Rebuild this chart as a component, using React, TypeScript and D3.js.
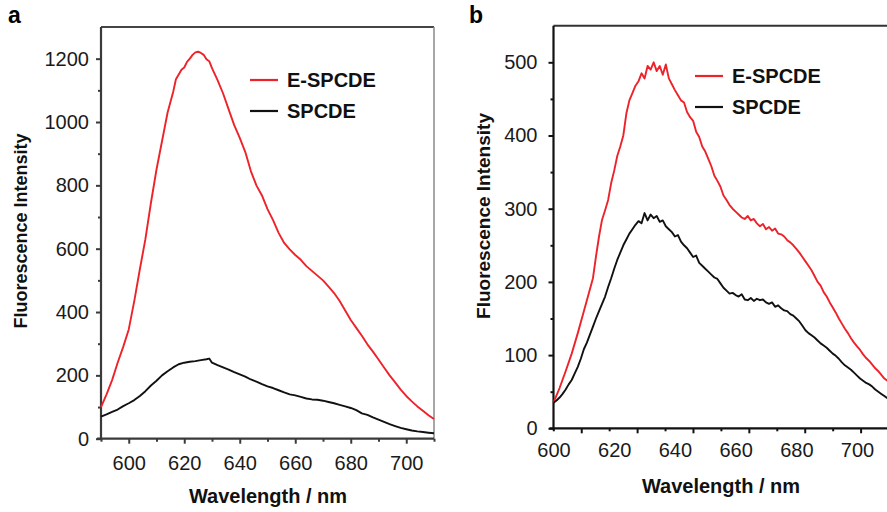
import React, { useEffect, useRef } from 'react';
import * as d3 from 'd3';

// Panel a: [wavelength nm, intensity]
const aRed: [number, number][] = [
  [590, 100], [592, 140], [594, 185], [596, 240], [598, 290], [600, 345], [602, 435], [604, 535],
  [606, 630], [608, 745], [610, 850], [612, 940], [613, 985], [614, 1030], [616, 1095], [617, 1135],
  [618, 1150], [619, 1165], [620, 1172], [621, 1190], [622, 1200], [623, 1212], [624, 1220], [625, 1222],
  [626, 1218], [627, 1212], [628, 1198], [629, 1192], [630, 1170], [632, 1132], [634, 1090], [636, 1040],
  [638, 990], [640, 950], [642, 905], [644, 845], [646, 800], [648, 768], [650, 725], [652, 690],
  [654, 650], [656, 618], [658, 598], [660, 580], [662, 565], [664, 545], [666, 530], [668, 515],
  [670, 500], [672, 480], [674, 460], [676, 435], [678, 405], [680, 375], [682, 350], [684, 325],
  [686, 298], [688, 275], [690, 250], [692, 225], [694, 200], [696, 178], [698, 155], [700, 135],
  [702, 118], [704, 102], [706, 88], [708, 74], [710, 62],
];
const aBlack: [number, number][] = [
  [590, 70], [592, 77], [594, 85], [596, 92], [598, 103], [600, 112], [602, 122], [604, 135],
  [606, 150], [608, 168], [610, 183], [612, 200], [614, 213], [616, 225], [618, 235], [620, 240],
  [622, 243], [624, 245], [626, 248], [628, 251], [629, 253], [630, 240], [632, 232], [634, 225],
  [636, 218], [638, 210], [640, 203], [642, 196], [644, 187], [646, 180], [648, 172], [650, 165],
  [652, 160], [654, 153], [656, 146], [658, 140], [660, 137], [662, 132], [664, 127], [666, 124],
  [668, 123], [670, 120], [672, 116], [674, 112], [676, 107], [678, 102], [680, 97], [682, 90],
  [684, 80], [686, 75], [688, 67], [690, 60], [692, 53], [694, 46], [696, 40], [698, 34],
  [700, 30], [702, 26], [704, 23], [706, 21], [708, 19], [710, 17],
];

// Panel b
const bRed: [number, number][] = [
  [600, 35], [601, 45], [602, 55], [604, 78], [606, 102], [608, 130], [610, 160], [612, 190],
  [613, 205], [614, 235], [615, 262], [616, 285], [617, 298], [618, 312], [619, 335], [620, 352],
  [621, 372], [622, 385], [623, 400], [624, 430], [625, 448], [626, 458], [627, 468], [628, 474],
  [629, 485], [630, 478], [631, 495], [632, 490], [633, 500], [634, 488], [635, 495], [636, 483],
  [637, 497], [638, 478], [639, 470], [640, 462], [641, 455], [642, 448], [643, 445], [644, 432],
  [645, 425], [646, 420], [647, 405], [648, 398], [649, 385], [650, 378], [651, 368], [652, 358],
  [653, 345], [654, 338], [655, 330], [656, 318], [657, 312], [658, 305], [659, 300], [660, 296],
  [661, 292], [662, 288], [663, 286], [664, 290], [665, 284], [666, 286], [667, 280], [668, 276],
  [669, 279], [670, 272], [671, 275], [672, 270], [673, 273], [674, 266], [675, 265], [676, 262],
  [677, 257], [678, 254], [679, 250], [680, 245], [681, 240], [682, 234], [683, 228], [684, 222],
  [685, 216], [686, 208], [687, 200], [688, 195], [689, 186], [690, 180], [691, 172], [692, 165],
  [693, 158], [694, 150], [695, 143], [696, 136], [697, 130], [698, 123], [699, 117], [700, 112],
  [701, 107], [702, 101], [703, 96], [704, 92], [705, 87], [706, 82], [707, 78], [708, 73],
  [709, 68], [710, 65],
];
const bBlack: [number, number][] = [
  [600, 35], [601, 38], [602, 42], [603, 47], [604, 53], [605, 60], [606, 66], [607, 75],
  [608, 84], [609, 95], [610, 108], [611, 117], [612, 128], [613, 139], [614, 150], [615, 160],
  [616, 170], [617, 180], [618, 193], [619, 205], [620, 218], [621, 230], [622, 240], [623, 250],
  [624, 258], [625, 266], [626, 272], [627, 278], [628, 283], [629, 280], [630, 294], [631, 284],
  [632, 292], [633, 287], [634, 290], [635, 282], [636, 284], [637, 276], [638, 272], [639, 268],
  [640, 262], [641, 264], [642, 255], [643, 250], [644, 246], [645, 240], [646, 234], [647, 236],
  [648, 226], [649, 222], [650, 218], [651, 214], [652, 210], [653, 206], [654, 204], [655, 198],
  [656, 192], [657, 188], [658, 184], [659, 185], [660, 182], [661, 180], [662, 183], [663, 176],
  [664, 175], [665, 178], [666, 174], [667, 177], [668, 175], [669, 176], [670, 172], [671, 170],
  [672, 172], [673, 166], [674, 168], [675, 164], [676, 161], [677, 160], [678, 156], [679, 154],
  [680, 150], [681, 146], [682, 140], [683, 134], [684, 130], [685, 127], [686, 124], [687, 120],
  [688, 116], [689, 113], [690, 110], [691, 106], [692, 102], [693, 99], [694, 95], [695, 90],
  [696, 86], [697, 83], [698, 80], [699, 76], [700, 72], [701, 68], [702, 65], [703, 62],
  [704, 60], [705, 57], [706, 53], [707, 50], [708, 47], [709, 44], [710, 41],
];

const aYMajor = [0, 200, 400, 600, 800, 1000, 1200];
const aYMinor = [100, 300, 500, 700, 900, 1100];
const aXMajor = [600, 620, 640, 660, 680, 700];
const aXMinor = [590, 610, 630, 650, 670, 690, 710];
const bYMajor = [0, 100, 200, 300, 400, 500];
const bYMinor = [50, 150, 250, 350, 450];
const bXMajor = [600, 620, 640, 660, 680, 700];
const bTickMajor = [610, 630, 650, 670, 690, 710];
const bTickMinor = [600, 620, 640, 660, 680, 700];

const seriesNames = ['E-SPCDE', 'SPCDE'];
const seriesColors = ['#ee2229', '#111111'];

const FONT = "'Liberation Sans', Arial, Helvetica, sans-serif";

export default function App() {
  const ref = useRef<SVGSVGElement | null>(null);

  useEffect(() => {
    const svg = d3.select(ref.current);
    svg.selectAll('*').remove();
    svg.append('rect').attr('width', 887).attr('height', 512).attr('fill', '#fff');

    const styleAxis = (g: any, labels: boolean, color: string) => {
      g.select('.domain').remove();
      g.selectAll('line').attr('stroke', color).attr('stroke-width', 2);
      g.selectAll('text')
        .attr('font-family', FONT)
        .attr('font-size', 20)
        .attr('fill', '#1a1a1a');
      if (!labels) g.selectAll('text').remove();
    };

    const drawPanel = (opts: any) => {
      const { x, y, tickX, red, black, yMajor, yMinor, xMajor, xMinorTick, xMajorTick,
        xPadding, yPadding, axisColor, borderColor, letter, letterPos, ylabelPos, xlabelPos,
        legendX, legendY, right } = opts;
      const [x0] = x.range();
      const [yb, yt] = y.range();
      const g = svg.append('g');

      // frame
      g.append('line').attr('x1', x0).attr('x2', right).attr('y1', yt).attr('y2', yt)
        .attr('stroke', borderColor).attr('stroke-width', 2);
      g.append('line').attr('x1', right).attr('x2', right).attr('y1', yt).attr('y2', yb)
        .attr('stroke', '#8a8a8a').attr('stroke-width', 1.5);

      // y axis
      g.append('g').attr('transform', `translate(${x0},0)`)
        .call(d3.axisLeft(y).tickValues(yMinor).tickSize(3).tickFormat(() => ''))
        .call((s: any) => styleAxis(s, false, axisColor));
      g.append('g').attr('transform', `translate(${x0},0)`)
        .call(d3.axisLeft(y).tickValues(yMajor).tickSize(5).tickPadding(yPadding).tickFormat(d3.format('d')))
        .call((s: any) => styleAxis(s, true, axisColor));

      // x axis ticks (tick marks) and labels
      g.append('g').attr('transform', `translate(0,${yb})`)
        .call(d3.axisBottom(tickX).tickValues(xMinorTick).tickSize(3).tickFormat(() => ''))
        .call((s: any) => styleAxis(s, false, axisColor));
      g.append('g').attr('transform', `translate(0,${yb})`)
        .call(d3.axisBottom(tickX).tickValues(xMajorTick).tickSize(5).tickFormat(() => ''))
        .call((s: any) => styleAxis(s, false, axisColor));
      g.append('g').attr('transform', `translate(0,${yb})`)
        .call(d3.axisBottom(x).tickValues(xMajor).tickSize(0).tickPadding(xPadding).tickFormat(d3.format('d')))
        .call((s: any) => styleAxis(s, true, axisColor));

      // axis lines
      g.append('line').attr('x1', x0).attr('x2', x0).attr('y1', yt).attr('y2', yb + 1)
        .attr('stroke', axisColor).attr('stroke-width', 2.2);
      g.append('line').attr('x1', x0 - 4).attr('x2', right).attr('y1', yb).attr('y2', yb)
        .attr('stroke', axisColor).attr('stroke-width', 2.2);

      // lines
      const line = d3.line<[number, number]>().x((d) => x(d[0])).y((d) => y(d[1]));
      [red, black].forEach((data: [number, number][], i: number) => {
        g.append('path').datum(data).attr('d', line).attr('fill', 'none')
          .attr('stroke', seriesColors[i]).attr('stroke-width', 1.9)
          .attr('stroke-linejoin', 'round');
      });

      // legend
      seriesNames.forEach((name, i) => {
        const ly = legendY + i * 31;
        g.append('line').attr('x1', legendX).attr('x2', legendX + 28).attr('y1', ly).attr('y2', ly)
          .attr('stroke', seriesColors[i]).attr('stroke-width', 2.2);
        g.append('text').attr('x', legendX + 37).attr('y', ly + 7).text(name)
          .attr('font-family', FONT).attr('font-size', 20).attr('font-weight', 'bold').attr('fill', '#111');
      });

      // labels
      g.append('text').attr('transform', `translate(${ylabelPos[0]},${ylabelPos[1]}) rotate(-90)`)
        .attr('text-anchor', 'middle').text('Fluorescence Intensity')
        .attr('font-family', FONT).attr('font-size', ylabelPos[2]).attr('font-weight', 'bold').attr('fill', '#111');
      g.append('text').attr('x', xlabelPos[0]).attr('y', xlabelPos[1]).attr('text-anchor', 'middle')
        .text('Wavelength / nm')
        .attr('font-family', FONT).attr('font-size', 20).attr('font-weight', 'bold').attr('fill', '#111');
      g.append('text').attr('x', letterPos[0]).attr('y', letterPos[1]).text(letter)
        .attr('font-family', FONT).attr('font-size', 23).attr('font-weight', 'bold').attr('fill', '#000');
    };

    const xA = d3.scaleLinear().domain([590, 710]).range([101, 434]);
    const yA = d3.scaleLinear().domain([0, 1300]).range([438.7, 27]);
    drawPanel({
      x: xA, y: yA, tickX: xA, red: aRed, black: aBlack,
      yMajor: aYMajor, yMinor: aYMinor, xMajor: aXMajor,
      xMinorTick: aXMinor, xMajorTick: aXMajor,
      xPadding: 17, yPadding: 7, axisColor: '#3a3a3a', borderColor: '#444',
      letter: 'a', letterPos: [8, 23], ylabelPos: [27, 231, 18], xlabelPos: [268, 503],
      legendX: 250, legendY: 80, right: 434,
    });

    const xB = d3.scaleLinear().domain([600, 710]).range([553.5, 887.4]);
    const yB = d3.scaleLinear().domain([0, 550]).range([428.3, 25.7]);
    const tickB = d3.scaleLinear().domain([600, 710]).range([553.3, 860.6]);
    drawPanel({
      x: xB, y: yB, tickX: tickB, red: bRed, black: bBlack,
      yMajor: bYMajor, yMinor: bYMinor, xMajor: bXMajor,
      xMinorTick: bTickMinor, xMajorTick: bTickMajor,
      xPadding: 15, yPadding: 11, axisColor: '#111', borderColor: '#333',
      letter: 'b', letterPos: [469, 23], ylabelPos: [490, 216, 19], xlabelPos: [721, 493],
      legendX: 695, legendY: 76, right: 889,
    });
  }, []);

  return (
    <svg ref={ref} width={887} height={512}
      style={{ position: 'absolute', left: 0, top: 0, display: 'block' }} />
  );
}
